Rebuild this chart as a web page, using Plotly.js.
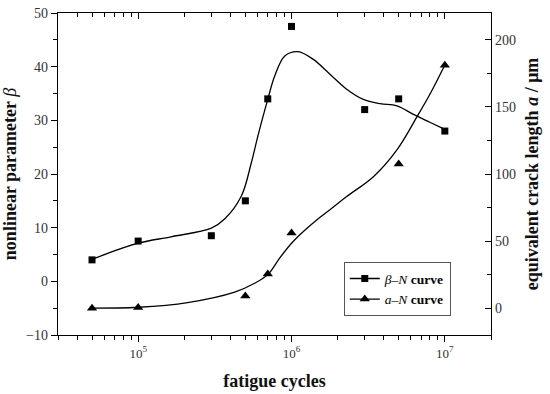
<!DOCTYPE html>
<html>
<head>
<meta charset="utf-8">
<script src="https://cdn.plot.ly/plotly-3.0.1.min.js"></script>
<style>html,body{margin:0;padding:0;background:#fff;}#chart{width:550px;height:394px;}</style>
</head>
<body>
<div id="chart"></div>
<script>
// measured points: nonlinear parameter beta vs fatigue cycles
const betaN = [5e4, 1e5, 3e5, 5e5, 7e5, 1e6, 3e6, 5e6, 1e7];
const betaVal = [4.0, 7.5, 8.5, 15.0, 34.0, 47.5, 32.0, 34.0, 28.0];
// measured points: equivalent crack length a (um) vs fatigue cycles
const crackN = [5e4, 1e5, 5e5, 7e5, 1e6, 5e6, 1e7];
const crackVal = [0, 0.5, 9, 25.5, 56, 107.5, 181];
// fitted beta-N curve
const betaCurveN = [5e4, 1e5, 1.64e5, 3e5, 3.66e5, 4.71e5, 5.47e5, 6.04e5, 7e5, 7.78e5, 9.04e5, 1.1e6, 1.38e6, 1.78e6, 2.29e6, 2.94e6, 3.79e6, 4.87e6, 6.25e6, 8.04e6, 1e7];
const betaCurveVal = [4.1, 7.1, 8.3, 9.9, 11.6, 15.9, 22.1, 27.1, 33.9, 38.3, 42.0, 42.8, 41.4, 38.6, 35.8, 33.9, 33.1, 32.7, 31.1, 29.6, 28.3];
// fitted a-N curve
const crackCurveN = [5e4, 1e5, 2.1e5, 4.26e5, 5.75e5, 7e5, 8.37e5, 1e6, 1.19e6, 1.46e6, 1.78e6, 2.29e6, 3.42e6, 4.87e6, 6.59e6, 8.04e6, 1e7];
const crackCurveVal = [0, 0.7, 4.2, 12.0, 18.6, 25.0, 37.3, 48.4, 57.0, 65.8, 73.3, 83.2, 98, 118, 142.8, 160, 181.3];
// axis ticks
const xTickVals = [1e5, 1e6, 1e7];
const xTickText = ['10<sup>5</sup>', '10<sup>6</sup>', '10<sup>7</sup>'];
const legendBeta = '<i>β</i>–<i>N</i> <b>curve</b>';
const legendCrack = '<i>a</i>–<i>N</i> <b>curve</b>';

const xRange = [Math.log10(3e4), Math.log10(2e7)];
const serif = 'Liberation Serif, Times New Roman, serif';

const traces = [
  {x: betaCurveN, y: betaCurveVal, mode: 'lines', line: {shape: 'spline', smoothing: 1, color: '#000', width: 1.3}, showlegend: false, hoverinfo: 'skip'},
  {x: betaN, y: betaVal, mode: 'markers', marker: {symbol: 'square', size: 7, color: '#000'}, showlegend: false},
  {x: crackCurveN, y: crackCurveVal, yaxis: 'y2', mode: 'lines', line: {shape: 'spline', smoothing: 1, color: '#000', width: 1.3}, showlegend: false, hoverinfo: 'skip'},
  {x: crackN, y: crackVal, yaxis: 'y2', mode: 'markers', marker: {symbol: 'triangle-up', size: 9, color: '#000'}, showlegend: false},
  {x: [null], y: [null], xaxis: 'x2', mode: 'lines+markers', name: legendBeta, line: {color: '#000', width: 1.3}, marker: {symbol: 'square', size: 7, color: '#000'}},
  {x: [null], y: [null], xaxis: 'x2', mode: 'lines+markers', name: legendCrack, line: {color: '#000', width: 1.3}, marker: {symbol: 'triangle-up', size: 9, color: '#000'}}
];

const layout = {
  width: 550, height: 394,
  margin: {l: 58, r: 59, t: 13, b: 59},
  paper_bgcolor: '#fff', plot_bgcolor: '#fff',
  font: {family: serif, color: '#222', size: 13},
  showlegend: true,
  legend: {x: 0.66, y: 0.226, xanchor: 'left', yanchor: 'top', bordercolor: '#555', borderwidth: 1, bgcolor: '#fff',
           font: {family: serif, size: 13.5, color: '#000'}, tracegroupgap: 0, itemwidth: 30},
  xaxis: {
    type: 'log', range: xRange, showgrid: false, zeroline: false,
    showline: true, linecolor: '#000', linewidth: 1.3,
    ticks: 'outside', ticklen: 6, tickwidth: 1, tickcolor: '#000',
    tickmode: 'array', tickvals: xTickVals, ticktext: xTickText,
    minor: {dtick: 'D1', ticks: 'outside', ticklen: 4, tickwidth: 1, tickcolor: '#000', showgrid: false},
    tickfont: {family: serif, size: 13, color: '#333'},
    title: {text: '<b>fatigue cycles</b>', font: {family: serif, size: 18, color: '#111'}, standoff: 14},
    anchor: 'y'
  },
  xaxis2: {
    type: 'log', range: xRange, overlaying: 'x', side: 'top', anchor: 'y',
    showgrid: false, zeroline: false, showline: true, linecolor: '#000', linewidth: 1.3,
    ticks: 'inside', ticklen: 6, tickwidth: 1, tickcolor: '#000', showticklabels: false,
    tickmode: 'array', tickvals: xTickVals,
    minor: {dtick: 'D1', ticks: 'inside', ticklen: 4, tickwidth: 1, tickcolor: '#000', showgrid: false}
  },
  yaxis: {
    range: [-10, 50], dtick: 10, tick0: 0, showgrid: false, zeroline: false,
    showline: true, linecolor: '#000', linewidth: 1.3,
    ticks: 'outside', ticklen: 6, tickwidth: 1, tickcolor: '#000',
    minor: {dtick: 5, ticks: 'outside', ticklen: 4, tickcolor: '#000', showgrid: false},
    tickfont: {family: serif, size: 14, color: '#333'},
    title: {text: '<b>nonlinear parameter </b><i>β</i>', font: {family: serif, size: 18, color: '#111'}, standoff: 5}
  },
  yaxis2: {
    overlaying: 'y', side: 'right', anchor: 'x',
    range: [-20, 220], dtick: 50, tick0: 0, showgrid: false, zeroline: false,
    showline: true, linecolor: '#000', linewidth: 1.3,
    ticks: 'inside', ticklen: 6, tickwidth: 1, tickcolor: '#000',
    minor: {dtick: 25, ticks: 'inside', ticklen: 4, tickcolor: '#000', showgrid: false},
    tickfont: {family: serif, size: 14, color: '#333'},
    title: {text: '<b>equivalent crack length </b><b><i>a</i></b><b> / μm</b>', font: {family: serif, size: 18, color: '#111'}, standoff: 10}
  }
};

Plotly.newPlot('chart', traces, layout, {displayModeBar: false, staticPlot: true});
</script>
</body>
</html>
